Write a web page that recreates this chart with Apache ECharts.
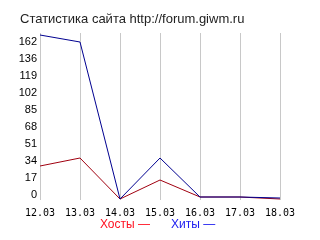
<!DOCTYPE html>
<html><head><meta charset="utf-8">
<script src="https://cdn.jsdelivr.net/npm/echarts@6/dist/echarts.min.js"></script>
<style>html,body{margin:0;padding:0;background:#fff}#c{width:320px;height:240px}</style>
</head><body><div id="c"></div>
<script>
var titleText = 'Статистика сайта http://forum.giwm.ru';
var categories = ['12.03','13.03','14.03','15.03','16.03','17.03','18.03'];
var hosts = [34, 42, 1, 20, 3, 3, 1];
var hits = [165, 158, 1, 42, 3, 3, 2];
var seriesNames = ['Хосты', 'Хиты'];
var yTickValues = [0, 17, 34, 51, 68, 85, 102, 119, 136, 153];
var yTickLabels = ['0', '17', '34', '51', '68', '85', '102', '119', '136', '162'];

var chart = echarts.init(document.getElementById('c'), null, {renderer: 'canvas'});
chart.setOption({
  animation: false,
  backgroundColor: '#fff',
  title: {
    text: titleText, left: 20, top: 13, padding: 0,
    textStyle: {fontFamily: 'Liberation Sans', fontSize: 13, fontWeight: 'normal', color: '#222'}
  },
  legend: {
    left: 95, top: 218, icon: 'none', itemWidth: 0, itemGap: 16, padding: 0,
    selectedMode: false,
    formatter: function (n) { return n + ' —'; },
    data: [
      {name: seriesNames[0], textStyle: {color: '#ff1020'}},
      {name: seriesNames[1], textStyle: {color: '#2020f0'}}
    ],
    textStyle: {fontFamily: 'Liberation Sans', fontSize: 12}
  },
  grid: {left: 40, right: 40, top: 33, bottom: 40},
  xAxis: {
    type: 'category', data: categories, boundaryGap: false,
    axisLine: {show: false}, axisTick: {show: false},
    splitLine: {show: true, lineStyle: {color: '#c8c8c8', width: 1}},
    axisLabel: {fontFamily: 'DejaVu Sans Mono', fontSize: 10, color: '#000', margin: 8}
  },
  yAxis: {
    type: 'value', min: 0, max: 167, interval: 17,
    axisLine: {show: false}, axisTick: {show: false}, splitLine: {show: false},
    axisLabel: {
      fontFamily: 'Liberation Sans', fontSize: 11, color: '#000', margin: 3,
      verticalAlign: 'bottom', showMaxLabel: false,
      formatter: function (v) {
        var i = yTickValues.indexOf(v);
        return i >= 0 ? yTickLabels[i] : '';
      }
    }
  },
  series: [
    {name: seriesNames[0], type: 'line', data: hosts, symbol: 'none',
     lineStyle: {color: '#a00010', width: 1}, itemStyle: {color: '#a00010'}},
    {name: seriesNames[1], type: 'line', data: hits, symbol: 'none',
     lineStyle: {color: '#000090', width: 1}, itemStyle: {color: '#000090'}}
  ]
});
</script></body></html>
